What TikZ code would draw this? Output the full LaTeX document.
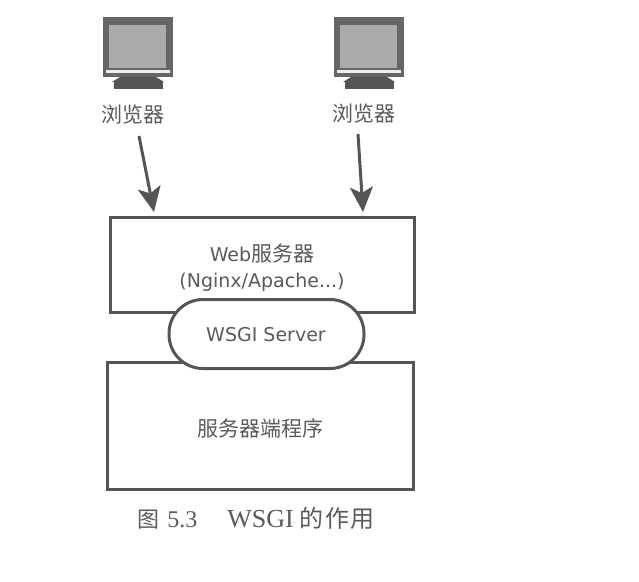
\documentclass[tikz,border=0pt]{standalone}
\usepackage{fontspec}
\usetikzlibrary{arrows.meta}
\setmainfont{Liberation Serif}
\newfontfamily\cjk{Noto Sans CJK SC}
\newfontfamily\cjkspaced[LetterSpace=6]{Noto Sans CJK SC}
\newfontfamily\lab{DejaVu Sans}
\definecolor{ink}{HTML}{555555}
\definecolor{txt}{HTML}{5A5A5A}
\definecolor{scr}{HTML}{ABABAB}
\tikzset{
  boxnode/.style={draw=ink,line width=3pt,fill=white,minimum width=#1,inner sep=0pt},
  label text/.style={text=txt,inner sep=0pt,align=center},
  flow/.style={draw=ink,line width=3pt,-{Stealth[length=25pt,width=23pt,inset=6pt]}},
  monitor/.pic={
    \fill[ink!90!white] (-35,-30) rectangle (35,30);
    \fill[scr] (-29,-22) rectangle (28,21);
    \fill[white!90!ink] (-32,23) rectangle (32,26);
    \fill[ink] (-18,30) -- (18,30) -- (26,35) -- (-26,35) -- cycle;
    \fill[ink] (-24,34) rectangle (25,42);
  }
}
\begin{document}
\begin{tikzpicture}[x=1pt,y=-1pt]
\useasboundingbox (0,0) rectangle (639,581);
\pic at (138,47) {monitor};
\pic at (369,47) {monitor};
\node[label text] (lb1) at (133,115) {\cjk\fontsize{21}{24}\selectfont 浏览器};
\node[label text] (lb2) at (364,114) {\cjk\fontsize{21}{24}\selectfont 浏览器};
\node[boxnode=304pt,minimum height=95pt] (web) at (262,264.5) {};
\node[boxnode=306pt,minimum height=127pt] (app) at (260,425.5) {};
\node[label text] (webt) at (262,254) {\lab\fontsize{19}{24}\selectfont Web{\cjk\fontsize{21}{24}\selectfont 服务器}};
\node[label text] (webu) at (262,282) {\lab\fontsize{19}{24}\selectfont (Nginx/Apache...)};
\node[label text] (appt) at (260,428) {\cjk\fontsize{21}{24}\selectfont 服务器端程序};
\node[draw=ink,line width=3pt,fill=white,rounded corners=34pt,minimum width=195pt,minimum height=69pt,inner sep=0pt] (wsgi) at (266.5,334) {};
\node[label text] (wsgit) at (266,335) {\lab\fontsize{19}{22}\selectfont WSGI Server};
\node[text=txt,inner sep=0pt] (cap) at (256,518) {{\cjk\fontsize{22}{24}\selectfont 图}\hspace{8pt}{\fontsize{24}{24}\selectfont 5.3}\hspace{30pt}{\fontsize{26}{24}\selectfont WSGI}\hspace{6pt}{\cjkspaced\fontsize{24}{24}\selectfont 的作用}};
\coordinate (a1s) at (139,136);
\coordinate (a1e) at (154,212);
\coordinate (a2s) at (358,134);
\coordinate (a2e) at (363,212);
\draw[flow] (a1s) -- (a1e);
\draw[flow] (a2s) -- (a2e);
\end{tikzpicture}
\end{document}
